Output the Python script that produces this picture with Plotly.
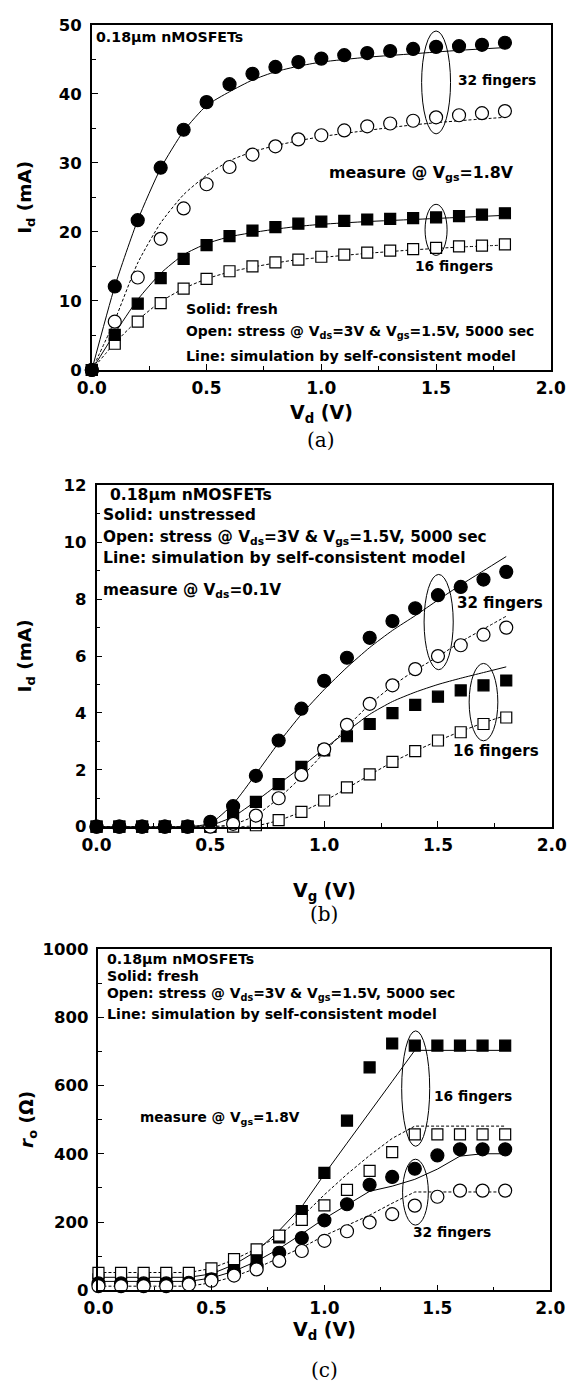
import plotly.graph_objects as go

W, H = 581, 1392

# ---------------- data ----------------
V = [0.0, 0.1, 0.2, 0.3, 0.4, 0.5, 0.6, 0.7, 0.8, 0.9, 1.0, 1.1, 1.2, 1.3, 1.4, 1.5, 1.6, 1.7, 1.8]

# (a) Id vs Vd (mA)
a_32_fresh = [0, 12.1, 21.7, 29.3, 34.8, 38.8, 41.4, 42.9, 43.9, 44.6, 45.1, 45.6, 45.9, 46.2, 46.5, 46.8, 46.9, 47.1, 47.4]
a_32_stress = [0, 7.0, 13.4, 19.0, 23.4, 26.9, 29.4, 31.2, 32.4, 33.4, 34.0, 34.7, 35.3, 35.7, 36.1, 36.6, 36.9, 37.2, 37.5]
a_16_fresh = [0, 5.1, 9.6, 13.3, 16.1, 18.1, 19.4, 20.2, 20.7, 21.2, 21.5, 21.6, 21.8, 21.9, 22.0, 22.1, 22.3, 22.5, 22.7]
a_16_stress = [0, 3.8, 7.0, 9.7, 11.8, 13.2, 14.3, 15.0, 15.6, 16.0, 16.4, 16.7, 17.0, 17.3, 17.5, 17.7, 17.9, 18.0, 18.2]

a_sim_x = [0, 0.1, 0.2, 0.3, 0.4, 0.5, 0.6, 0.7, 0.8, 0.9, 1.0, 1.2, 1.4, 1.6, 1.8]
a_sim_32_fresh = [0, 12.1, 21.7, 29.2, 34.6, 38.3, 40.3, 42.0, 43.2, 44.0, 44.6, 45.3, 45.8, 46.3, 46.7]
a_sim_32_stress = [0, 7.2, 15.5, 21.3, 25.4, 28.2, 30.3, 31.6, 32.5, 33.2, 33.8, 34.7, 35.5, 36.1, 36.6]
a_sim_16_fresh = [0, 5.3, 10.2, 14.0, 16.7, 18.3, 19.3, 19.9, 20.4, 20.8, 21.1, 21.5, 21.8, 22.1, 22.4]
a_sim_16_stress = [0, 3.9, 7.2, 9.9, 11.8, 13.2, 14.2, 14.9, 15.5, 16.0, 16.3, 16.9, 17.4, 17.8, 18.1]

# (b) Id vs Vg (mA)
b_32_fresh = [0, 0, 0, 0, 0, 0.17, 0.72, 1.79, 3.03, 4.15, 5.13, 5.94, 6.64, 7.23, 7.68, 8.14, 8.43, 8.69, 8.96]
b_32_stress = [0, 0, 0, 0, 0, 0, 0.10, 0.39, 1.0, 1.82, 2.72, 3.58, 4.32, 4.97, 5.54, 6.0, 6.38, 6.75, 7.0]
b_16_fresh = [0, 0, 0, 0, 0, 0, 0.37, 0.87, 1.5, 2.1, 2.68, 3.18, 3.61, 3.99, 4.28, 4.57, 4.79, 4.97, 5.14]
b_16_stress = [0, 0, 0, 0, 0, 0, 0, 0.05, 0.23, 0.52, 0.92, 1.38, 1.84, 2.28, 2.66, 3.03, 3.32, 3.61, 3.84]

b_sim_x = [0, 0.4, 0.5, 0.6, 0.7, 0.8, 0.9, 1.0, 1.1, 1.2, 1.3, 1.4, 1.5, 1.6, 1.7, 1.8]
b_sim_32_fresh = [0, 0, 0.12, 0.8, 1.85, 2.95, 3.95, 4.82, 5.6, 6.3, 6.9, 7.42, 7.97, 8.5, 9.0, 9.5]
b_sim_32_stress = [0, 0, 0, 0.08, 0.4, 1.0, 1.75, 2.6, 3.5, 4.3, 4.95, 5.5, 5.98, 6.5, 6.95, 7.4]
b_sim_16_fresh = [0, 0, 0.05, 0.35, 0.9, 1.5, 2.1, 2.74, 3.35, 3.95, 4.4, 4.73, 5.0, 5.22, 5.42, 5.62]
b_sim_16_stress = [0, 0, 0, 0, 0.03, 0.22, 0.52, 0.9, 1.35, 1.82, 2.27, 2.66, 3.02, 3.35, 3.65, 3.92]

# (c) ro vs Vd (Ohm)
c_16_fresh = [32, 32, 32, 32, 32, 44, 66, 98, 155, 232, 344, 497, 653, 723, 717, 717, 717, 717, 717]
c_16_stress = [51, 51, 51, 51, 51, 64, 91, 120, 160, 206, 249, 294, 350, 405, 457, 457, 457, 457, 457]
c_32_fresh = [20, 20, 20, 20, 22, 32, 52, 70, 110, 153, 205, 252, 309, 332, 356, 395, 413, 413, 413]
c_32_stress = [12, 12, 12, 12, 17, 28, 43, 61, 86, 115, 145, 173, 199, 223, 248, 274, 292, 292, 292]

c_sim_x = [0, 0.4, 0.5, 0.6, 0.7, 0.8, 0.9, 1.0, 1.1, 1.2, 1.3, 1.4, 1.5, 1.6, 1.7, 1.8]
c_sim_16_fresh = [38, 38, 48, 75, 115, 175, 245, 340, 431, 520, 612, 703, 703, 703, 703, 703]
c_sim_16_stress = [52, 52, 64, 90, 122, 160, 215, 280, 340, 395, 445, 481, 481, 481, 481, 481]
c_sim_32_fresh = [26, 26, 36, 56, 85, 122, 165, 210, 250, 290, 305, 325, 355, 393, 400, 400]
c_sim_32_stress = [12, 12, 22, 40, 65, 95, 125, 160, 190, 220, 255, 288, 288, 288, 288, 288]

x_ticks = [0.0, 0.5, 1.0, 1.5, 2.0]

# ---------------- styling helpers ----------------
SANS = "DejaVu Sans"
SERIF = "DejaVu Serif"

def px_x(p):
    return p / W

def px_y(p):
    return 1 - p / H

fig = go.Figure()

def add_markers(xa, ya, x, y, symbol, filled):
    fig.add_trace(go.Scatter(
        x=x, y=y, mode="markers", xaxis=xa, yaxis=ya, cliponaxis=False,
        marker=dict(symbol=symbol, size=13 if "circle" in symbol else 11,
                    color="black" if filled else "white",
                    line=dict(color="black", width=1.2)),
        showlegend=False, hoverinfo="skip"))

def add_line(xa, ya, x, y, dashed, shape="spline"):
    fig.add_trace(go.Scatter(
        x=x, y=y, mode="lines", xaxis=xa, yaxis=ya, cliponaxis=False,
        line=dict(color="black", width=1, dash="3px,2px" if dashed else "solid",
                  shape=shape, smoothing=0.6 if shape == "spline" else None),
        showlegend=False, hoverinfo="skip"))

# (a)
add_line("x", "y", a_sim_x, a_sim_32_fresh, False)
add_line("x", "y", a_sim_x, a_sim_32_stress, True)
add_line("x", "y", a_sim_x, a_sim_16_fresh, False)
add_line("x", "y", a_sim_x, a_sim_16_stress, True)
add_markers("x", "y", V, a_16_stress, "square", False)
add_markers("x", "y", V, a_16_fresh, "square", True)
add_markers("x", "y", V, a_32_stress, "circle", False)
add_markers("x", "y", V, a_32_fresh, "circle", True)

# (b)
add_line("x2", "y2", b_sim_x, b_sim_32_fresh, False)
add_line("x2", "y2", b_sim_x, b_sim_32_stress, True)
add_line("x2", "y2", b_sim_x, b_sim_16_fresh, False)
add_line("x2", "y2", b_sim_x, b_sim_16_stress, True)
add_markers("x2", "y2", V, b_16_stress, "square", False)
add_markers("x2", "y2", V, b_16_fresh, "square", True)
add_markers("x2", "y2", V, b_32_stress, "circle", False)
add_markers("x2", "y2", V, b_32_fresh, "circle", True)

# (c)
add_line("x3", "y3", c_sim_x, c_sim_16_fresh, False, "linear")
add_line("x3", "y3", c_sim_x, c_sim_16_stress, True, "linear")
add_line("x3", "y3", c_sim_x, c_sim_32_fresh, False, "linear")
add_line("x3", "y3", c_sim_x, c_sim_32_stress, True, "linear")
add_markers("x3", "y3", V, c_16_fresh, "square", True)
add_markers("x3", "y3", V, c_16_stress, "square", False)
add_markers("x3", "y3", V, c_32_fresh, "circle", True)
add_markers("x3", "y3", V, c_32_stress, "circle", False)

def xaxis(domain, anchor):
    return dict(domain=domain, anchor=anchor, range=[0, 2], tickvals=x_ticks,
                tickformat=".1f", showline=True, linecolor="black", linewidth=1.5,
                mirror=True, ticks="inside", ticklen=6, tickwidth=1.2, tickcolor="black",
                minor=dict(ticks="inside", ticklen=4, dtick=0.25, tickcolor="black", tickwidth=1.2),
                showgrid=False, zeroline=False, ticklabelstandoff=2,
                tickfont=dict(family=SANS, size=17, color="black", weight="bold"))

def yaxis(domain, anchor, rng, dt):
    return dict(domain=domain, anchor=anchor, range=rng, dtick=dt, tick0=0,
                showline=True, linecolor="black", linewidth=1.5, mirror=True,
                ticks="inside", ticklen=6, tickwidth=1.2, tickcolor="black",
                minor=dict(ticks="inside", ticklen=4, dtick=dt / 2, tickcolor="black", tickwidth=1.2),
                showgrid=False, zeroline=False, ticklabelstandoff=5,
                tickfont=dict(family=SANS, size=16.5, color="black", weight="bold"))

fig.update_layout(
    width=W, height=H, margin=dict(l=0, r=0, t=0, b=0),
    paper_bgcolor="white", plot_bgcolor="white",
    xaxis=xaxis([px_x(81), px_x(565)], "y"),
    yaxis=yaxis([px_y(366), px_y(16)], "x", [0, 50], 10),
    xaxis2=xaxis([px_x(86), px_x(566)], "y2"),
    yaxis2=yaxis([px_y(829), px_y(483)], "x2", [0, 12], 2),
    xaxis3=xaxis([px_x(88), px_x(564.5)], "y3"),
    yaxis3=yaxis([px_y(1299), px_y(953)], "x3", [0, 1000], 200),
)

ann = []
def text(xr, yr, x, y, s, size, anchor="left"):
    ann.append(dict(xref=xr, yref=yr, x=x, y=y, text=s, showarrow=False,
                    xanchor=anchor, yanchor="middle",
                    font=dict(family=SANS, size=size, color="black", weight="bold")))

OPEN = "Open: stress @ V<sub>ds</sub>=3V & V<sub>gs</sub>=1.5V, 5000 sec"
LINE = "Line: simulation by self-consistent model"

# (a) texts
text("x", "y", 0.01, 48.3, "0.18μm nMOSFETs", 14.2)
text("x", "y", 1.585, 42.0, "32 fingers", 13.8)
text("x", "y", 1.025, 28.4, "measure @ V<sub>gs</sub>=1.8V", 15.8)
text("x", "y", 1.40, 15.0, "16 fingers", 13.8)
text("x", "y", 0.403, 8.86, "Solid: fresh", 14.2)
text("x", "y", 0.403, 5.57, OPEN, 13.9)
text("x", "y", 0.403, 2.0, LINE, 14.2)

# (b) texts
text("x2", "y2", 0.05, 11.65, "0.18μm nMOSFETs", 15.6)
text("x2", "y2", 0.02, 10.96, "Solid: unstressed", 15.6)
text("x2", "y2", 0.02, 10.16, OPEN, 15.3)
text("x2", "y2", 0.02, 9.43, LINE, 15.6)
text("x2", "y2", 0.02, 8.29, "measure @ V<sub>ds</sub>=0.1V", 15.3)
text("x2", "y2", 1.574, 7.87, "32 fingers", 15.1)
text("x2", "y2", 1.557, 2.67, "16 fingers", 15.1)

# (c) texts
text("x3", "y3", 0.03, 971, "0.18μm nMOSFETs", 14.2)
text("x3", "y3", 0.03, 922, "Solid: fresh", 14.2)
text("x3", "y3", 0.03, 867, OPEN, 13.9)
text("x3", "y3", 0.03, 809, LINE, 14.2)
text("x3", "y3", 1.478, 569, "16 fingers", 13.8)
text("x3", "y3", 0.176, 506, "measure @ V<sub>gs</sub>=1.8V", 13.7)
text("x3", "y3", 1.384, 171, "32 fingers", 13.8)

# axis titles
def title(x, y, s, size, angle=0):
    ann.append(dict(xref="paper", yref="paper", x=px_x(x), y=px_y(y), text=s,
                    showarrow=False, xanchor="center", yanchor="middle", textangle=angle,
                    font=dict(family=SANS, size=size, color="black", weight="bold")))

title(323, 410, "V<sub>d</sub> (V)", 19)
title(326, 895, "V<sub>g</sub> (V)", 19)
title(326, 1340, "V<sub>d</sub> (V)", 19)
title(12, 191, "I<sub>d</sub> (mA)", 18.5, -90)
title(12, 656, "I<sub>d</sub> (mA)", 18.5, -90)
title(13, 1126, "<i>r</i><sub>o</sub> (Ω)", 18.5, -90)

# captions
for cx, cy, s in [(323, 437, "(a)"), (326, 918, "(b)"), (326, 1380, "(c)")]:
    ann.append(dict(xref="paper", yref="paper", x=px_x(cx), y=px_y(cy), text=s,
                    showarrow=False, xanchor="center", yanchor="middle",
                    font=dict(family=SERIF, size=20, color="black")))

fig.update_layout(annotations=ann)

# ellipses
shapes = []
def ell(xr, yr, xc, hw, y0, y1):
    shapes.append(dict(type="circle", xref=xr, yref=yr, x0=xc - hw, x1=xc + hw,
                       y0=y0, y1=y1, line=dict(color="black", width=1)))

ell("x", "y", 1.5, 0.063, 34.2, 49.1)
ell("x", "y", 1.5, 0.048, 16.6, 24.0)
ell("x2", "y2", 1.503, 0.064, 5.52, 8.87)
ell("x2", "y2", 1.70, 0.063, 3.02, 5.74)
ell("x3", "y3", 1.404, 0.062, 422, 760)
ell("x3", "y3", 1.403, 0.057, 191, 384)
fig.update_layout(shapes=shapes)

fig.write_html("out.html")
